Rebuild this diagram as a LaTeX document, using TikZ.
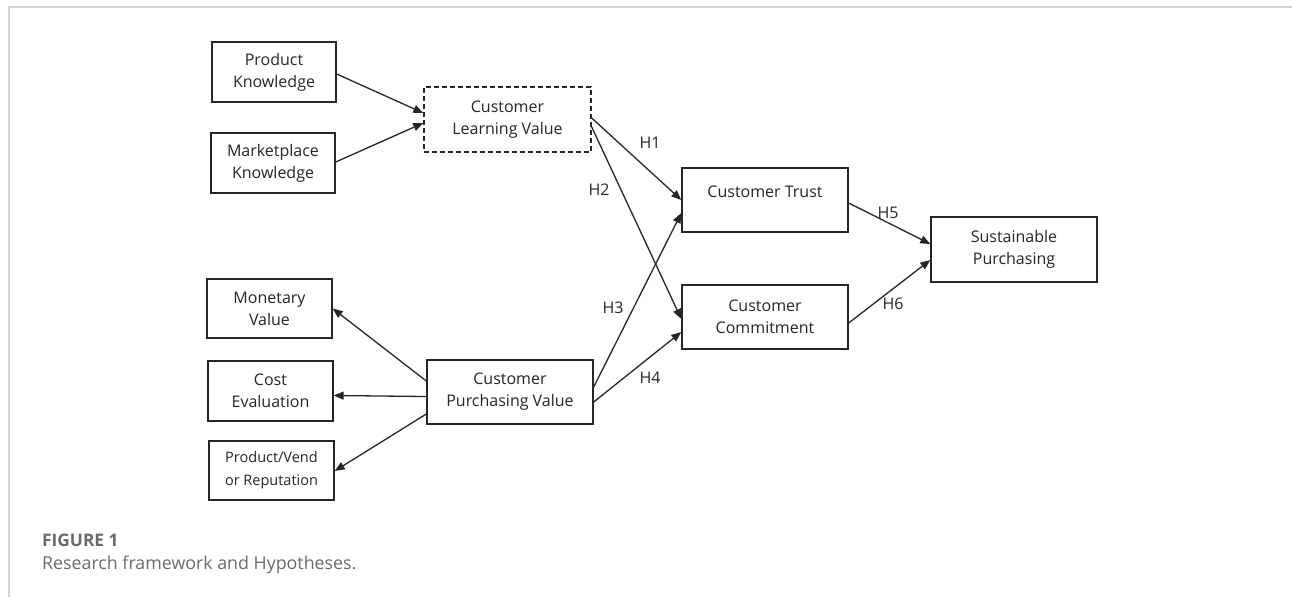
\documentclass[tikz,border=0pt]{standalone}
\usepackage{fontspec}
\setmainfont{Open Sans}
\newfontfamily\capfont{Open Sans}
\usetikzlibrary{arrows.meta}
\definecolor{ink}{HTML}{262626}
\definecolor{capgray}{HTML}{6A6A6A}
\definecolor{framegray}{HTML}{D2D2D2}
\begin{document}
\begin{tikzpicture}[x=1pt,y=-1pt,
  box/.style={draw=ink, line width=1.4pt, fill=white, align=center, inner sep=0pt,
    font=\fontsize{16}{22}\selectfont, text=ink},
  bigbox/.style={box, minimum width=166pt, minimum height=64pt},
  smallbox/.style={box, minimum width=124pt, minimum height=60pt},
  link/.style={draw=ink, line width=1.3pt, -{Triangle[length=10pt,width=8pt]}},
  hlab/.style={font=\fontsize{16}{20}\selectfont, text=ink, inner sep=0pt}
]
\useasboundingbox (0,0) rectangle (1292,597);
\draw[framegray, line width=1.5pt] (9,597) -- (9,7) -- (1292,7);

% left inputs
\node[smallbox] (pk) at (274,72) {Product\\Knowledge};
\node[smallbox] (mk) at (273,163) {Marketplace\\Knowledge};
\node[box, dash pattern=on 5pt off 3pt, minimum width=167pt, minimum height=65pt] (clv) at (507.5,119.5) {Customer\\Learning Value};

\node[bigbox] (ct) at (765,200) {};
\node[hlab] (cttext) at (765,192) {Customer Trust};
\node[bigbox] (cc) at (765,317) {Customer\\Commitment};
\node[bigbox, minimum height=65pt] (sp) at (1014,249.5) {Sustainable\\Purchasing};

\node[smallbox, minimum width=125pt, minimum height=59pt] (mv) at (269.5,308.5) {Monetary\\Value};
\node[smallbox, minimum width=125pt] (ce) at (270.5,391) {Cost\\Evaluation};
\node[smallbox, minimum width=125pt, minimum height=59pt, font=\fontsize{14.5}{23}\selectfont] (pvr) at (271.5,470.5) {Product/Vend\\or Reputation};
\node[bigbox] (cpv) at (510,392) {Customer\\Purchasing Value};

% connectors
\draw[link] ([yshift=-2pt]pk.east) -- ([yshift=6.5pt]clv.west);
\draw[link] ([yshift=1pt]mk.east) -- ([yshift=-3.5pt]clv.west);
\draw[link] ([yshift=1.5pt]clv.east) -- (ct.west);
\draw[link] ([yshift=-7.5pt]clv.east) -- ([yshift=-2pt]cc.west);
\draw[link] ([yshift=5pt]cpv.east) -- ([yshift=-13pt]ct.west);
\draw[link] ([yshift=-10pt]cpv.east) -- ([yshift=-15pt]cc.west);
\draw[link] ([yshift=-3pt]ct.east) -- ([yshift=5.5pt]sp.west);
\draw[link] ([yshift=-6pt]cc.east) -- ([yshift=-10.5pt]sp.west);
\draw[link] ([yshift=11pt]cpv.west) -- (mv.east);
\draw[link] ([yshift=-4.5pt]cpv.west) -- ([yshift=-4.5pt]ce.east);
\draw[link] ([yshift=-22pt]cpv.west) -- ([yshift=-0.5pt]pvr.east);

% hypothesis labels
\node[hlab] (h1) at (650,143) {H1};
\node[hlab] (h2) at (599,190) {H2};
\node[hlab] (h3) at (613,308) {H3};
\node[hlab] (h4) at (650,378) {H4};
\node[hlab] (h5) at (888,213) {H5};
\node[hlab] (h6) at (893,304) {H6};

% caption
\node[anchor=base west, inner sep=0pt, text=capgray, font=\capfont\bfseries\fontsize{17.3}{20}\selectfont] (fig) at (42,546) {FIGURE 1};
\node[anchor=base west, inner sep=0pt, text=capgray, font=\capfont\fontsize{17.8}{20}\selectfont] (cap) at (42,569) {Research framework and Hypotheses.};
\end{tikzpicture}
\end{document}
